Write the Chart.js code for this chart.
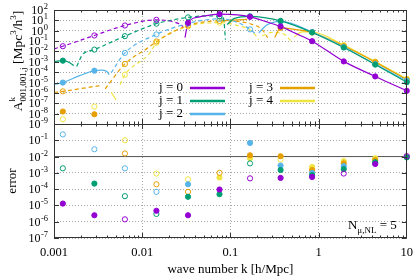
<!DOCTYPE html>
<html>
<head>
<meta charset="utf-8">
<script src="https://cdn.jsdelivr.net/npm/chart.js@4.4.1/dist/chart.umd.min.js"></script>
<style>
  html, body { margin: 0; padding: 0; background: #fff; }
  canvas { display: block; }
</style>
</head>
<body>
<canvas id="chart" width="420" height="280"></canvas>
<script>
// k values where the markers sit [h/Mpc]
const kPts = [0.00126, 0.00287, 0.00637, 0.0145, 0.0331, 0.0753, 0.167, 0.371, 0.845, 1.93, 4.39, 10];

const labels = ["j = 0", "j = 1", "j = 2", "j = 3", "j = 4"];
const colors = ["#9400d3", "#009e73", "#56b4e9", "#e69f00", "#f0e442"];

const xTicks = [0.001, 0.01, 0.1, 1, 10];
const ampExp = [2, 1, 0, -1, -2, -3, -4, -5, -6, -7, -8, -9];
const errExp = [-1, -2, -3, -4, -5, -6, -7];
const errLine = 1e-2;

// j = 0
const j0DashK = [0.001, 0.00126, 0.00287, 0.00637, 0.0145, 0.0256, 0.029];
const j0DashA = [1.8e-2, 3.2e-2, 0.35, 3.2, 11.2, 5.1, 2.6];
const j0SolidK = [0.0306, 0.0331, 0.045, 0.0753, 0.12, 0.167, 0.25, 0.371, 0.55, 0.845, 1.93, 4.39, 10];
const j0SolidA = [0.22, 5.8, 21.9, 39.8, 33.9, 21.9, 7.9, 2.6, 0.55, 9.8e-2, 1.1e-3, 3.9e-5, 1.6e-6];
const j0TopOpen = [3.2e-2, 0.35, 3.2, 11.2, null, null, null, null, null, null, null, null];
const j0TopFilled = [null, null, null, null, 5.8, 39.8, 21.9, 2.6, 9.8e-2, 1.1e-3, 3.9e-5, 1.6e-6];
const j0ErrOpen = [null, null, 1.4e-6, null, null, null, 4.6e-4, null, null, 9.1e-4, null, 1.05e-2];
const j0ErrFilled = [1.3e-5, 2.5e-6, null, 4.7e-6, 2.5e-6, 9.5e-5, null, 4.9e-4, 5.6e-4, null, 3.5e-3, null];

// j = 1
const j1DashK = [0.00181, 0.00211, 0.00287, 0.00637, 0.0145, 0.0331, 0.0553, 0.0753, 0.0836, 0.0879];
const j1DashA = [3.6e-4, 5.0e-3, 1.5e-2, 0.30, 4.8, 19.5, 27.5, 24.5, 15.5, 0.14];
const j1SolidK = [0.001, 0.00126, 0.00151, 0.00167, 0.05, 0.092, 0.111, 0.167, 0.371, 0.845, 1.93, 4.39, 10];
const j1SolidA = [1.1e-3, 1.3e-3, 8.3e-4, 4.3e-4, null, 4.0, 15.5, 24.5, 8.9, 0.68, 2.4e-2, 5.4e-4, 1.07e-5];
const j1TopOpen = [null, 1.5e-2, 0.30, 4.8, 19.5, 24.5, null, null, null, null, null, null];
const j1TopFilled = [1.3e-3, null, null, null, null, null, 24.5, 8.9, 0.68, 2.4e-2, 5.4e-4, 1.07e-5];
const j1ErrOpen = [1.9e-3, null, 3.7e-5, 3.0e-6, null, null, 3.8e-3, null, null, null, null, null];
const j1ErrFilled = [null, 2.2e-4, null, null, 3.4e-5, 4.9e-5, null, 1.5e-3, 7.2e-4, 1.7e-3, 4.5e-3, 8.9e-3];

// j = 2
const j2DashK = [0.00445, 0.00637, 0.0145, 0.0331, 0.0646, 0.0753, 0.12, 0.155, 0.167, 0.19];
const j2DashA = [8.9e-5, 7.2e-3, 0.44, 5.1, 13.5, 14.1, 6.3, 2.1, 1.35, 0.55];
const j2SolidK = [0.001, 0.00126, 0.00195, 0.00287, 0.00352, 0.00401, 0.00422, 0.1, 0.21, 0.259, 0.371, 0.845, 1.93, 4.39, 10];
const j2SolidA = [6.2e-6, 1.0e-5, 4.6e-5, 1.4e-4, 1.6e-4, 1.1e-4, 5.8e-5, null, 0.63, 3.5, 7.9, 0.76, 2.7e-2, 6.0e-4, 1.5e-5];
const j2TopOpen = [null, null, 7.2e-3, 0.44, 5.1, 14.1, 1.35, null, null, null, null, null];
const j2TopFilled = [1.0e-5, 1.4e-4, null, null, null, null, null, 7.9, 0.76, 2.7e-2, 6.0e-4, 1.5e-5];
const j2ErrOpen = [0.23, 2.8e-2, 1.9e-3, 6.8e-5, null, null, null, null, null, null, null, null];
const j2ErrFilled = [null, null, null, null, 2.0e-4, null, 6.9e-2, 2.8e-3, 1.0e-3, 2.6e-3, 3.8e-3, 1.0e-2];

// j = 3
const j3DashK = [0.001, 0.00126, 0.00287, 0.00335, 0.0036, 0.00381, 0.00637, 0.0118, 0.0145, 0.0331, 0.0753, 0.12, 0.176, 0.228, 0.265];
const j3DashA = [1.1e-6, 1.4e-6, 4.2e-6, 5.0e-6, null, 2.5e-6, 6.3e-4, 2.4e-2, 9.1e-2, 3.2, 8.9, 7.9, 4.1, 1.35, 0.22];
const j3SolidK = [0.0753, 0.155, 0.2, 0.318, 0.371, 0.56, 0.845, 1.93, 4.39, 10];
const j3SolidA = [8.9, 12.6, null, 0.22, 1.9, 1.26, 0.68, 3.3e-2, 9.3e-4, 1.9e-5];
const j3TopOpen = [1.4e-6, null, 6.3e-4, 9.1e-2, 3.2, 8.9, null, null, null, null, null, null];
const j3TopFilled = [1.6e-8, 8.7e-9, null, null, null, null, null, 1.9, 0.68, 3.3e-2, 9.3e-4, 1.9e-5];
const j3ErrOpen = [null, null, 1.55e-2, 2.0e-4, 6.8e-5, 1.0e-3, null, null, null, null, null, null];
const j3ErrFilled = [null, null, null, null, null, null, 1.2e-2, 1.05e-2, 1.5e-3, 3.8e-3, 6.0e-3, 1.05e-2];

// j = 4
const j4DashK = [0.00561, 0.00637, 0.0118, 0.0145, 0.0331, 0.0753, 0.12, 0.176, 0.21, 0.22, 0.23, 0.295, 0.4, 0.49];
const j4DashA = [6.3e-6, 5.8e-5, 5.0e-3, 6.8e-2, 2.6, 6.0, 3.2, 0.85, 0.14, null, 0.32, 0.68, 0.5, 0.1];
const j4SolidK = [0.00445, 0.00506, 0.1, 0.53, 0.65, 0.845, 1.93, 4.39, 10];
const j4SolidA = [1.2e-6, 2.1e-7, null, 0.25, 0.79, 0.76, 4.1e-2, 1.05e-3, 2.3e-5];
const j4TopOpen = [2.9e-9, 4.8e-8, 5.8e-5, 6.8e-2, 2.6, 6.0, null, null, null, null, null, null];
const j4TopFilled = [null, null, null, null, null, null, null, null, 0.76, 4.1e-2, 1.05e-3, 2.3e-5];
const j4ErrOpen = [null, null, 0.10, 9.1e-4, 4.0e-4, null, null, 6.6e-3, null, null, null, null];
const j4ErrFilled = [null, null, null, null, null, 5.2e-4, 7.9e-3, null, 2.3e-3, 5.2e-3, 7.9e-3, null];

const series = [
  [j0DashK, j0DashA, j0SolidK, j0SolidA, j0TopOpen, j0TopFilled, j0ErrOpen, j0ErrFilled],
  [j1DashK, j1DashA, j1SolidK, j1SolidA, j1TopOpen, j1TopFilled, j1ErrOpen, j1ErrFilled],
  [j2DashK, j2DashA, j2SolidK, j2SolidA, j2TopOpen, j2TopFilled, j2ErrOpen, j2ErrFilled],
  [j3DashK, j3DashA, j3SolidK, j3SolidA, j3TopOpen, j3TopFilled, j3ErrOpen, j3ErrFilled],
  [j4DashK, j4DashA, j4SolidK, j4SolidA, j4TopOpen, j4TopFilled, j4ErrOpen, j4ErrFilled],
];

const SERIF = '"Liberation Serif", "DejaVu Serif", serif';
const font = (size) => size + "px " + SERIF;
const frameColor = "#333";
const gridColor = "rgba(0,0,0,0.35)";

function pts(ks, vs) {
  return ks.map((k, i) => ({ x: k, y: vs[i] }));
}
function marks(vs) {
  return kPts.map((k, i) => ({ x: k, y: vs[i] })).filter((p) => p.y !== null);
}

// Build datasets
const datasets = [];
series.forEach((s, j) => {
  const c = colors[j];
  const line = { type: "line", borderColor: c, borderWidth: 1.2, pointRadius: 0, fill: false,
    cubicInterpolationMode: "monotone", spanGaps: false, order: 2 };
  const mark = { type: "line", showLine: false, borderColor: c, pointBorderColor: c,
    pointRadius: 2.6, pointBorderWidth: 1, clip: false, order: 1 };
  datasets.push({ ...line, label: labels[j], data: pts(s[0], s[1]), yAxisID: "y", borderDash: [4, 3] });
  datasets.push({ ...line, label: labels[j], data: pts(s[2], s[3]), yAxisID: "y" });
  datasets.push({ ...mark, data: marks(s[4]), yAxisID: "y", pointBackgroundColor: "rgba(255,255,255,0)" });
  datasets.push({ ...mark, data: marks(s[5]), yAxisID: "y", pointBackgroundColor: c });
  datasets.push({ ...mark, data: marks(s[6]), yAxisID: "err", pointBackgroundColor: "rgba(255,255,255,0)" });
  datasets.push({ ...mark, data: marks(s[7]), yAxisID: "err", pointBackgroundColor: c });
});
// reference line at error = 1e-2
datasets.push({ type: "line", data: [{ x: 0.001, y: errLine }, { x: 10, y: errLine }], yAxisID: "err",
  borderColor: "#555", borderWidth: 1, pointRadius: 0, order: 3 });

// text helpers
function drawRuns(ctx, runs, x, y) {
  ctx.textAlign = "left";
  ctx.textBaseline = "alphabetic";
  let cx = x;
  runs.forEach((r) => {
    ctx.font = font(r.size);
    if (r.stack) {
      let w = 0;
      r.stack.forEach((p) => {
        ctx.font = font(p.size);
        ctx.fillText(p.t, cx, y + p.dy);
        w = Math.max(w, ctx.measureText(p.t).width);
      });
      cx += w;
    } else {
      ctx.fillText(r.t, cx, y + (r.dy || 0));
      cx += ctx.measureText(r.t).width;
    }
  });
  return cx - x;
}
function runsWidth(ctx, runs) {
  let w = 0;
  runs.forEach((r) => {
    if (r.stack) {
      w += Math.max(...r.stack.map((p) => { ctx.font = font(p.size); return ctx.measureText(p.t).width; }));
    } else {
      ctx.font = font(r.size);
      w += ctx.measureText(r.t).width;
    }
  });
  return w;
}
function drawPow(ctx, xRight, y, exp) {
  ctx.textBaseline = "alphabetic";
  ctx.font = font(8.5);
  const ew = ctx.measureText(String(exp)).width;
  ctx.textAlign = "left";
  ctx.fillText(String(exp), xRight - ew, y - 1);
  ctx.font = font(12);
  ctx.textAlign = "right";
  ctx.fillText("10", xRight - ew - 0.5, y + 4);
}

const decorations = {
  id: "decorations",
  afterDraw(chart) {
    const { ctx, chartArea: a, scales } = chart;
    const xs = scales.x, ys = scales.y, es = scales.err;
    ctx.save();
    ctx.strokeStyle = frameColor;
    ctx.lineWidth = 1;
    // frame and panel divider
    ctx.strokeRect(Math.round(a.left) + 0.5, Math.round(a.top) + 0.5, Math.round(a.right - a.left) - 1, Math.round(a.bottom - a.top) - 1);
    const mid = Math.round(ys.bottom) + 0.5;
    ctx.beginPath(); ctx.moveTo(a.left, mid); ctx.lineTo(a.right, mid); ctx.stroke();

    // inward tick marks
    ctx.beginPath();
    [[ys, ampExp], [es, errExp.concat([0])]].forEach(([s, exps]) => {
      exps.forEach((e) => {
        const py = Math.round(s.getPixelForValue(Math.pow(10, e))) + 0.5;
        ctx.moveTo(a.left, py); ctx.lineTo(a.left + 5, py);
        ctx.moveTo(a.right, py); ctx.lineTo(a.right - 5, py);
      });
    });
    [ys, es].forEach((s) => {
      for (let d = -3; d <= 0; d++) {
        for (let m = 1; m <= 9; m++) {
          const v = m * Math.pow(10, d);
          const px = Math.round(xs.getPixelForValue(v)) + 0.5;
          const len = m === 1 ? 5 : 2.5;
          ctx.moveTo(px, s.top); ctx.lineTo(px, s.top + len);
          ctx.moveTo(px, s.bottom); ctx.lineTo(px, s.bottom - len);
        }
      }
    });
    ctx.stroke();

    // y tick labels
    ctx.fillStyle = "#000";
    ampExp.forEach((e) => drawPow(ctx, 48, ys.getPixelForValue(Math.pow(10, e)), e));
    errExp.forEach((e) => drawPow(ctx, 48, es.getPixelForValue(Math.pow(10, e)), e));

    // y titles
    const ampRuns = [
      { t: "A", size: 13.5 },
      { stack: [{ t: "k", size: 9, dy: -7 }, { t: "001,001,j", size: 9, dy: 3.5 }] },
      { t: " [Mpc", size: 13.5 },
      { t: "3", size: 9, dy: -6 },
      { t: "/h", size: 13.5 },
      { t: "3", size: 9, dy: -6 },
      { t: "]", size: 13.5 },
    ];
    const tw = runsWidth(ctx, ampRuns);
    ctx.save();
    ctx.translate(22, (ys.top + ys.bottom) / 2 - 6);
    ctx.rotate(-Math.PI / 2);
    drawRuns(ctx, ampRuns, -tw / 2, 0);
    ctx.restore();

    ctx.save();
    ctx.translate(13, (es.top + es.bottom) / 2);
    ctx.rotate(-Math.PI / 2);
    ctx.font = font(13);
    ctx.textAlign = "center";
    ctx.textBaseline = "middle";
    ctx.fillText("error", 0, 0);
    ctx.restore();

    // x title
    ctx.font = font(13);
    ctx.textAlign = "center";
    ctx.textBaseline = "middle";
    ctx.fillText("wave number k [h/Mpc]", (a.left + a.right) / 2, 270);

    // legend
    const rows = [[183, 190, 88], [183, 190, 101], [183, 190, 114], [273, 280, 88], [273, 280, 101]];
    rows.forEach(([tx, lx, ly], j) => {
      ctx.font = font(13);
      ctx.textAlign = "right";
      ctx.textBaseline = "middle";
      ctx.fillStyle = "#000";
      ctx.fillText(labels[j], tx, ly);
      ctx.strokeStyle = colors[j];
      ctx.lineWidth = 2.5;
      ctx.beginPath(); ctx.moveTo(lx, ly); ctx.lineTo(lx + 35, ly); ctx.stroke();
    });

    // annotation
    ctx.fillStyle = "#000";
    const nRuns = [
      { t: "N", size: 13 },
      { t: "\u03bc,NL", size: 9, dy: 3.5 },
      { t: " = 5", size: 13 },
    ];
    const nw = runsWidth(ctx, nRuns);
    drawRuns(ctx, nRuns, a.right - 10 - nw, es.bottom - 9);
    ctx.restore();
  },
};

new Chart(document.getElementById("chart"), {
  type: "line",
  data: { datasets },
  options: {
    responsive: false,
    animation: false,
    events: [],
    layout: { padding: { left: 0, right: 8, top: 10, bottom: 0 } },
    plugins: { legend: { display: false }, tooltip: { enabled: false } },
    scales: {
      x: {
        type: "logarithmic",
        min: 0.001,
        max: 10,
        afterBuildTicks: (s) => { s.ticks = xTicks.map((v) => ({ value: v })); },
        afterFit: (s) => { s.height = 42; },
        grid: { color: gridColor, drawTicks: false },
        border: { display: false, dash: [1, 2] },
        ticks: { autoSkip: false, maxRotation: 0, padding: 7, color: "#000",
          font: { family: SERIF, size: 12.5 }, callback: (v) => String(v) },
      },
      err: {
        type: "logarithmic",
        position: "left",
        stack: "panels",
        stackWeight: 1,
        min: 1e-7,
        max: 1,
        afterBuildTicks: (s) => { s.ticks = errExp.map((e) => ({ value: Math.pow(10, e) })); },
        afterFit: (s) => { s.width = 54; },
        grid: { color: gridColor, drawTicks: false },
        border: { display: false, dash: [1, 2] },
        ticks: { display: false },
      },
      y: {
        type: "logarithmic",
        position: "left",
        stack: "panels",
        stackWeight: 1,
        min: 1e-9,
        max: 100,
        afterBuildTicks: (s) => { s.ticks = ampExp.map((e) => ({ value: Math.pow(10, e) })); },
        afterFit: (s) => { s.width = 54; },
        grid: { color: gridColor, drawTicks: false },
        border: { display: false, dash: [1, 2] },
        ticks: { display: false },
      },
    },
  },
  plugins: [decorations],
});
</script>
</body>
</html>
